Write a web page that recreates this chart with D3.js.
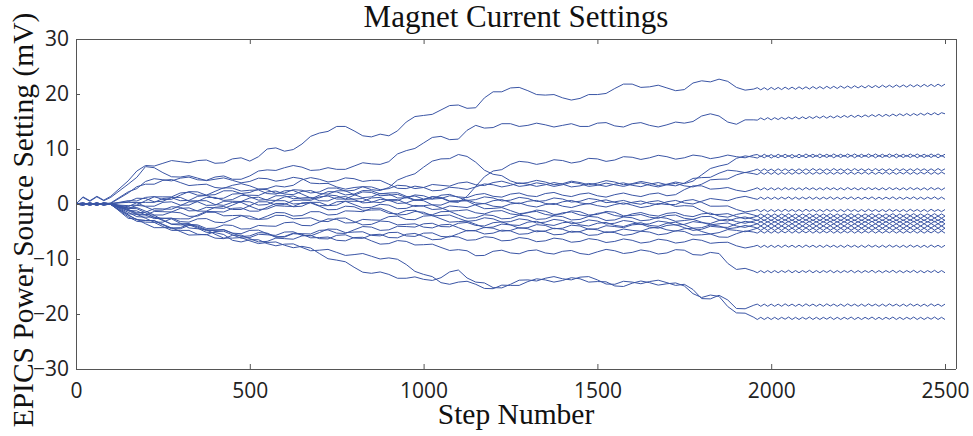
<!DOCTYPE html>
<html><head><meta charset="utf-8">
<script src="https://cdn.jsdelivr.net/npm/d3@7"></script>
<style>body{margin:0;background:#fff;} svg{display:block}</style>
</head><body><svg id="c" width="973" height="436"></svg>
<script>
// x positions (step number) shared by every series
const steps = [0,20,40,60,80,100,
150,175,200,225,250,275,300,325,350,375,400,425,450,475,500,525,550,575,600,625,650,675,700,725,750,775,800,825,850,875,900,925,950,975,1000,1025,1050,1075,1100,1125,1150,1175,1200,1225,1250,1275,1300,1325,1350,1375,1400,1425,1450,1475,1500,1525,1550,1575,1600,1625,1650,1675,1700,1725,1750,1775,1800,1825,1850,1875,1900,1925,1950,
1960,1970,1980,1990,2000,2010,2020,2030,2040,2050,2060,2070,2080,2090,2100,2110,2120,2130,2140,2150,2160,2170,2180,2190,2200,2210,2220,2230,2240,2250,2260,2270,2280,2290,2300,2310,2320,2330,2340,2350,2360,2370,2380,2390,2400,2410,2420,2430,2440,2450,2460,2470,2480,2490,2500];

const xTicks = [0,500,1000,1500,2000,2500];
const yTicks = [-30,-20,-10,0,10,20,30];

const seriesA = [0,1.3,0.6,1.4,0.7,1.4,
4.2,6.0,7.0,6.9,7.4,7.9,7.7,7.5,7.9,8.0,7.4,7.5,8.2,8.4,7.8,8.6,10.0,10.2,9.6,9.9,10.9,12.3,12.9,13.2,14.1,14.1,13.3,12.4,12.2,12.7,12.4,13.3,14.9,15.9,16.1,16.3,17.1,17.9,18.0,17.4,17.5,19.3,20.4,20.4,21.1,21.2,20.6,19.9,19.8,19.9,19.3,18.9,19.2,19.9,19.9,20.1,21.0,21.8,21.8,21.2,21.3,21.6,21.1,20.6,20.8,22.0,22.4,22.2,22.7,22.3,21.2,20.7,20.9,
21.15,20.75,21.15,20.75,21.2,20.8,21.2,20.8,21.25,20.85,21.25,20.85,21.3,20.9,21.3,20.9,21.35,20.95,21.35,20.95,21.4,21.0,21.4,21.0,21.45,21.05,21.45,21.05,21.5,21.1,21.5,21.1,21.55,21.15,21.55,21.15,21.6,21.2,21.6,21.2,21.65,21.25,21.65,21.25,21.7,21.3,21.7,21.3,21.75,21.35,21.75,21.35,21.8,21.4,21.8];
const seriesB = [0,0.2,-0.1,0.2,-0.1,0.2,
2.2,2.8,4.1,4.6,4.4,4.2,4.7,4.9,4.4,4.3,4.9,5.1,4.5,4.5,5.1,6.0,6.2,6.1,6.6,7.0,6.7,6.1,6.2,6.6,6.3,6.3,6.9,7.5,7.3,7.2,7.7,9.1,9.7,10.1,11.1,12.1,12.3,11.7,11.8,13.4,14.3,13.8,13.9,14.6,14.6,14.1,14.3,14.7,14.4,14.0,14.3,14.6,14.1,14.1,14.7,14.8,14.2,14.0,14.6,14.8,14.3,14.0,14.4,14.9,14.7,15.0,16.0,16.4,16.0,14.9,14.5,15.3,15.3,
15.25,15.65,15.3,15.7,15.3,15.7,15.35,15.75,15.4,15.8,15.45,15.85,15.45,15.85,15.5,15.9,15.55,15.95,15.6,16.0,15.6,16.0,15.65,16.05,15.7,16.1,15.75,16.15,15.75,16.15,15.8,16.2,15.85,16.25,15.9,16.3,15.9,16.3,15.95,16.35,16.0,16.4,16.05,16.45,16.05,16.45,16.1,16.5,16.15,16.55,16.2,16.6,16.2,16.6,16.4];
const seriesC = [0,-0.2,0.2,-0.2,0.2,0,
-0.5,0.25,0.3,0.3,1.0,1.15,0.6,0.65,1.4,1.55,1.0,1.05,1.8,1.9,1.3,0.7,0.8,1.5,1.5,0.95,1.1,1.2,0.6,0.55,1.2,1.35,0.8,0.2,0.3,0.85,0.7,0.1,0.2,0.75,0.6,-0.15,-0.2,0.4,0.3,1.4,3.2,4.95,6.0,6.25,7.2,7.75,7.6,7.2,7.5,8.05,7.9,7.45,7.7,8.3,8.2,7.75,8.0,8.6,8.5,8.1,8.4,8.85,8.6,8.15,8.4,8.9,8.7,8.25,8.5,8.9,8.6,8.4,8.9,
9.0,8.6,9.05,8.65,9.0,8.6,9.05,8.65,9.05,8.65,9.0,8.6,9.05,8.65,9.1,8.7,9.05,8.65,9.1,8.7,9.05,8.65,9.1,8.7,9.05,8.65,9.1,8.7,9.1,8.7,9.05,8.65,9.1,8.7,9.1,8.7,9.05,8.65,9.1,8.7,9.1,8.7,9.05,8.65,9.1,8.7,9.1,8.7,9.05,8.65,9.1,8.7,9.1,8.7,9.05];
const seriesD = [0,1.2,0.5,1.3,0.6,1.2,
3.6,4.85,6.8,6.6,5.7,4.95,4.9,5.15,4.7,4.25,4.5,4.75,4.3,3.85,4.1,4.7,4.6,4.15,4.4,4.85,4.6,3.8,3.7,3.75,3.1,2.7,3.0,3.15,2.6,2.45,3.0,4.35,5.0,5.5,6.7,7.8,8.2,8.25,9.0,8.65,7.6,6.15,5.4,5.15,4.2,3.7,3.9,4.3,4.0,3.5,3.7,4.15,3.9,3.5,3.8,4.25,4.0,3.5,3.7,4.1,3.8,3.35,3.6,4.0,3.7,4.15,5.3,6.45,6.9,7.25,8.3,8.75,8.5,
8.35,8.75,8.4,8.8,8.35,8.75,8.4,8.8,8.4,8.8,8.35,8.75,8.4,8.8,8.4,8.8,8.45,8.85,8.4,8.8,8.45,8.85,8.4,8.8,8.45,8.85,8.45,8.85,8.4,8.8,8.45,8.85,8.45,8.85,8.4,8.8,8.45,8.85,8.45,8.85,8.4,8.8,8.45,8.85,8.45,8.85,8.4,8.8,8.45,8.85,8.45,8.85,8.4,8.8,8.45];
const seriesE = [0,-0.1,0.2,-0.1,0.2,0.1,
2.0,3.15,3.6,3.6,4.3,4.45,3.9,3.35,3.5,3.6,3.0,2.85,3.4,3.7,3.3,2.7,2.8,3.3,3.1,3.4,4.4,4.8,4.5,4.0,4.2,4.75,4.6,4.1,4.3,4.3,3.6,2.85,2.8,3.25,3.0,2.4,2.5,3.05,2.9,2.65,3.1,3.65,3.5,3.1,3.4,3.85,3.6,3.2,3.5,3.9,3.6,3.1,3.3,3.75,3.5,3.2,3.6,3.85,3.4,3.15,3.6,3.9,3.5,3.3,3.8,4.65,4.8,4.85,5.6,6.15,6.0,5.7,6.1,
6.35,5.95,6.4,6.0,6.35,5.95,6.4,6.0,6.4,6.0,6.35,5.95,6.4,6.0,6.4,6.0,6.45,6.05,6.4,6.0,6.4,6.0,6.45,6.05,6.4,6.0,6.4,6.0,6.45,6.05,6.4,6.0,6.4,6.0,6.45,6.05,6.4,6.0,6.4,6.0,6.45,6.05,6.4,6.0,6.4,6.0,6.45,6.05,6.4,6.0,6.4,6.0,6.45,6.05,6.4];
const seriesF = [0,0.1,-0.2,0.1,-0.2,0,
0.6,0.55,1.2,1.35,0.8,0.85,1.6,2.25,2.2,1.6,1.7,2.4,2.4,1.9,2.1,2.7,2.6,1.95,2.0,2.6,2.5,2.0,2.2,2.9,2.9,2.35,2.5,3.15,3.1,2.6,2.8,3.4,3.3,2.8,3.0,3.55,3.4,3.25,3.8,4.0,3.5,3.35,3.9,4.15,3.7,3.2,3.4,3.85,3.6,3.2,3.5,3.95,3.7,3.2,3.4,3.8,3.5,3.2,3.6,3.85,3.4,3.1,3.5,3.75,3.3,3.1,3.6,4.4,4.5,4.55,5.3,5.75,5.5,
5.35,5.75,5.4,5.8,5.4,5.8,5.35,5.75,5.4,5.8,5.4,5.8,5.45,5.85,5.4,5.8,5.4,5.8,5.45,5.85,5.4,5.8,5.4,5.8,5.45,5.85,5.4,5.8,5.4,5.8,5.45,5.85,5.4,5.8,5.4,5.8,5.45,5.85,5.4,5.8,5.4,5.8,5.45,5.85,5.4,5.8,5.4,5.8,5.45,5.85,5.4,5.8,5.4,5.8,5.45];
const seriesG = [0,0.1,-0.1,0.2,-0.1,0.1,
-0.8,-0.25,-0.4,-0.4,0.3,0.4,-0.2,-0.2,0.5,1.2,1.2,0.65,0.8,1.55,1.6,1.55,2.2,2.35,1.8,1.7,2.3,2.45,1.9,1.8,2.4,2.4,1.7,1.15,1.3,1.9,1.8,1.1,1.1,1.65,1.5,0.9,1.0,1.5,1.3,1.15,1.7,1.9,1.4,1.25,1.8,2.0,1.5,1.35,1.9,2.1,1.6,1.35,1.8,2.0,1.5,1.25,1.7,2.0,1.6,1.35,1.8,2.0,1.5,1.7,2.6,3.3,3.3,2.7,2.8,3.0,2.5,2.25,2.7,
2.95,2.55,2.95,2.55,2.95,2.55,2.95,2.55,3.0,2.6,2.95,2.55,2.95,2.55,3.0,2.6,2.95,2.55,2.95,2.55,3.0,2.6,2.95,2.55,2.95,2.55,3.0,2.6,2.95,2.55,2.95,2.55,3.0,2.6,2.95,2.55,2.95,2.55,3.0,2.6,2.95,2.55,2.95,2.55,3.0,2.6,2.95,2.55,2.95,2.55,3.0,2.6,2.95,2.55,2.95];
const seriesH = [0,-0.1,0.1,-0.2,0.1,-0.1,
-1.2,-1.95,-2.0,-1.35,-1.4,-1.45,-0.8,-0.7,-1.3,-1.3,-0.6,-0.45,-1.0,-1.0,-0.3,0.4,0.4,-0.2,-0.1,0.65,0.7,0.65,1.3,1.45,0.9,0.9,1.6,2.2,2.1,1.5,1.6,1.75,1.2,0.65,0.8,1.3,1.1,0.45,0.5,0.7,0.2,0.05,0.6,0.8,0.3,0.05,0.5,0.65,0.1,-0.1,0.4,0.65,0.2,0.0,0.5,0.75,0.3,-0.05,0.3,0.55,0.1,-0.1,0.4,0.65,0.2,0.0,0.5,1.0,0.8,0.6,1.1,1.4,1.0,
0.85,1.25,0.85,1.25,0.85,1.25,0.85,1.25,0.9,1.3,0.85,1.25,0.85,1.25,0.9,1.3,0.85,1.25,0.85,1.25,0.9,1.3,0.85,1.25,0.85,1.25,0.9,1.3,0.85,1.25,0.85,1.25,0.9,1.3,0.85,1.25,0.85,1.25,0.9,1.3,0.85,1.25,0.85,1.25,0.9,1.3,0.85,1.25,0.85,1.25,0.9,1.3,0.85,1.25,0.85];
const seriesI = [0,0.1,-0.2,0.1,-0.1,0.1,
0.4,1.05,1.0,0.4,0.5,1.2,1.2,0.55,0.6,0.6,-0.1,-0.25,0.3,0.3,-0.4,-1.0,-0.9,-0.3,-0.4,-0.45,0.2,0.3,-0.3,-0.3,0.4,0.5,-0.1,-0.7,-0.6,-0.05,-0.2,-0.85,-0.8,-0.25,-0.4,-1.0,-0.9,-0.35,-0.5,-0.65,-0.1,0.1,-0.4,-0.55,0.0,0.2,-0.3,-0.55,-0.1,0.1,-0.4,-0.65,-0.2,0.1,-0.3,-0.55,-0.1,0.2,-0.2,-0.65,-0.4,0.1,-0.1,-0.1,0.6,0.8,0.3,-0.4,-0.4,-0.35,-1.0,-1.45,-1.2,
-1.0,-1.4,-1.0,-1.4,-1.0,-1.4,-1.0,-1.4,-0.95,-1.35,-1.0,-1.4,-1.0,-1.4,-0.95,-1.35,-1.0,-1.4,-1.0,-1.4,-0.95,-1.35,-1.0,-1.4,-1.0,-1.4,-0.95,-1.35,-1.0,-1.4,-1.0,-1.4,-0.95,-1.35,-1.0,-1.4,-1.0,-1.4,-0.95,-1.35,-1.0,-1.4,-1.0,-1.4,-0.95,-1.35,-1.0,-1.4,-1.0,-1.4,-0.95,-1.35,-1.0,-1.4,-1.0];
const seriesJ1 = [0,-0.2,0.1,-0.2,0.1,-0.1,
-0.3,-0.2,0.6,1.3,1.3,1.3,2.0,2.15,1.6,1.6,2.3,2.95,2.9,2.35,2.5,2.55,1.9,1.8,2.4,2.45,1.8,1.1,1.1,1.65,1.5,0.85,0.9,1.0,0.4,0.25,0.8,0.8,0.1,-0.45,-0.3,-0.15,-0.7,-1.3,-1.2,-1.05,-1.6,-1.8,-1.3,-1.2,-1.8,-2.0,-1.5,-1.35,-1.9,-2.1,-1.6,-1.45,-2.0,-2.2,-1.7,-1.55,-2.1,-2.3,-1.8,-1.55,-2.0,-2.2,-1.7,-1.55,-2.1,-2.3,-1.8,-1.65,-2.2,-2.4,-1.9,-1.6,-2.0,
-2.2,-1.8,-2.2,-1.8,-2.2,-1.8,-2.2,-1.8,-2.15,-1.75,-2.2,-1.8,-2.2,-1.8,-2.15,-1.75,-2.2,-1.8,-2.2,-1.8,-2.15,-1.75,-2.2,-1.8,-2.2,-1.8,-2.15,-1.75,-2.2,-1.8,-2.2,-1.8,-2.15,-1.75,-2.2,-1.8,-2.2,-1.8,-2.15,-1.75,-2.2,-1.8,-2.2,-1.8,-2.15,-1.75,-2.2,-1.8,-2.2,-1.8,-2.15,-1.75,-2.2,-1.8,-2.2];
const seriesJ2 = [0,0.1,-0.1,0.2,-0.2,0.1,
-1.8,-1.85,-2.6,-3.3,-3.3,-2.65,-2.7,-2.7,-2.0,-1.35,-1.4,-1.45,-0.8,-0.7,-1.3,-1.3,-0.6,0.1,0.1,-0.5,-0.4,0.3,0.3,-0.3,-0.2,0.5,0.5,0.45,1.1,1.2,0.6,0.6,1.3,1.45,0.9,0.9,1.6,1.75,1.2,0.65,0.8,1.3,1.1,0.55,0.7,1.2,1.0,0.45,0.6,1.1,0.9,0.35,0.5,1.0,0.8,0.25,0.4,0.65,0.2,-0.05,0.4,0.6,0.1,-0.45,-0.3,-0.4,-1.2,-1.9,-1.9,-1.75,-2.3,-2.7,-2.4,
-2.2,-2.6,-2.2,-2.6,-2.2,-2.6,-2.2,-2.6,-2.15,-2.55,-2.2,-2.6,-2.2,-2.6,-2.15,-2.55,-2.2,-2.6,-2.2,-2.6,-2.15,-2.55,-2.2,-2.6,-2.2,-2.6,-2.15,-2.55,-2.2,-2.6,-2.2,-2.6,-2.15,-2.55,-2.2,-2.6,-2.2,-2.6,-2.15,-2.55,-2.2,-2.6,-2.2,-2.6,-2.15,-2.55,-2.2,-2.6,-2.2,-2.6,-2.15,-2.55,-2.2,-2.6,-2.2];
const seriesJ3 = [0,-0.1,0.2,-0.1,0.2,0,
-1.0,-1.6,-1.5,-0.85,-0.9,-0.95,-0.3,0.4,0.4,-0.25,-0.2,0.5,0.5,0.45,1.1,1.25,0.7,0.65,1.3,1.45,0.9,0.9,1.6,2.25,2.2,1.65,1.8,2.45,2.4,1.85,2.0,2.05,1.4,0.75,0.8,1.35,1.2,0.55,0.6,0.55,-0.2,-0.85,-0.8,-0.65,-1.2,-1.75,-1.6,-1.1,-1.3,-1.9,-1.8,-1.25,-1.4,-2.0,-1.9,-1.35,-1.5,-2.15,-2.1,-1.9,-2.4,-2.6,-2.1,-2.0,-2.6,-2.8,-2.3,-2.25,-2.9,-3.1,-2.6,-2.35,-2.8,
-3.0,-2.6,-3.0,-2.6,-3.0,-2.6,-3.0,-2.6,-2.95,-2.55,-3.0,-2.6,-3.0,-2.6,-2.95,-2.55,-3.0,-2.6,-3.0,-2.6,-2.95,-2.55,-3.0,-2.6,-3.0,-2.6,-2.95,-2.55,-3.0,-2.6,-3.0,-2.6,-2.95,-2.55,-3.0,-2.6,-3.0,-2.6,-2.95,-2.55,-3.0,-2.6,-3.0,-2.6,-2.95,-2.55,-3.0,-2.6,-3.0,-2.6,-2.95,-2.55,-3.0,-2.6,-3.0];
const seriesJ4 = [0,0.2,-0.1,0.1,-0.2,0,
-0.7,-0.65,-1.3,-2.0,-2.0,-1.45,-1.6,-2.25,-2.2,-1.5,-1.5,-2.15,-2.1,-2.05,-2.7,-2.8,-2.2,-1.55,-1.6,-2.2,-2.1,-1.4,-1.4,-2.0,-1.9,-1.25,-1.3,-1.4,-0.8,-0.75,-1.4,-2.0,-1.9,-1.35,-1.5,-2.15,-2.1,-2.0,-2.6,-3.15,-3.0,-2.5,-2.7,-3.3,-3.2,-2.7,-2.9,-3.45,-3.3,-2.8,-3.0,-3.55,-3.4,-2.9,-3.1,-3.65,-3.5,-3.0,-3.2,-3.75,-3.6,-3.1,-3.3,-3.85,-3.7,-3.2,-3.4,-3.55,-3.0,-2.75,-3.2,-3.5,-3.1,
-2.9,-3.3,-2.9,-3.3,-2.9,-3.3,-2.9,-3.3,-2.85,-3.25,-2.9,-3.3,-2.9,-3.3,-2.85,-3.25,-2.9,-3.3,-2.9,-3.3,-2.85,-3.25,-2.9,-3.3,-2.9,-3.3,-2.85,-3.25,-2.9,-3.3,-2.9,-3.3,-2.85,-3.25,-2.9,-3.3,-2.9,-3.3,-2.85,-3.25,-2.9,-3.3,-2.9,-3.3,-2.85,-3.25,-2.9,-3.3,-2.9,-3.3,-2.85,-3.25,-2.9,-3.3,-2.9];
const seriesJ5 = [0,-0.2,0.1,-0.2,0.1,-0.1,
-2.0,-2.85,-3.0,-3.0,-3.7,-4.35,-4.3,-3.7,-3.8,-4.45,-4.4,-3.8,-3.9,-4.55,-4.5,-3.9,-4.0,-4.05,-3.4,-3.3,-3.9,-3.95,-3.3,-2.7,-2.8,-3.45,-3.4,-2.8,-2.9,-2.95,-2.3,-2.2,-2.8,-2.85,-2.2,-2.1,-2.7,-3.3,-3.2,-3.1,-3.7,-4.3,-4.2,-3.65,-3.8,-4.4,-4.3,-3.75,-3.9,-4.5,-4.4,-3.85,-4.0,-4.6,-4.5,-3.95,-4.1,-4.3,-3.8,-3.65,-4.2,-4.4,-3.9,-3.75,-4.3,-4.8,-4.6,-4.05,-4.2,-4.25,-3.6,-3.15,-3.4,
-3.6,-3.2,-3.6,-3.2,-3.6,-3.2,-3.6,-3.2,-3.55,-3.15,-3.6,-3.2,-3.6,-3.2,-3.55,-3.15,-3.6,-3.2,-3.6,-3.2,-3.55,-3.15,-3.6,-3.2,-3.6,-3.2,-3.55,-3.15,-3.6,-3.2,-3.6,-3.2,-3.55,-3.15,-3.6,-3.2,-3.6,-3.2,-3.55,-3.15,-3.6,-3.2,-3.6,-3.2,-3.55,-3.15,-3.6,-3.2,-3.6,-3.2,-3.55,-3.15,-3.6,-3.2,-3.6];
const seriesJ6 = [0,0.1,-0.2,0.1,-0.1,0.1,
0.3,0.25,-0.5,-1.15,-1.1,-0.5,-0.6,-1.25,-1.2,-0.6,-0.7,-0.8,-0.2,0.45,0.4,-0.2,-0.1,0.6,0.6,0.0,0.1,0.2,-0.4,-1.05,-1.0,-0.4,-0.5,-1.15,-1.1,-1.05,-1.7,-1.8,-1.2,-1.15,-1.8,-1.95,-1.4,-1.35,-2.0,-2.6,-2.5,-1.95,-2.1,-2.7,-2.6,-2.05,-2.2,-2.8,-2.7,-2.15,-2.3,-2.9,-2.8,-2.25,-2.4,-3.0,-2.9,-2.35,-2.5,-3.05,-2.9,-2.4,-2.6,-3.15,-3.0,-2.8,-3.3,-3.8,-3.6,-3.45,-4.0,-4.25,-3.8,
-3.6,-4.0,-3.6,-4.0,-3.6,-4.0,-3.6,-4.0,-3.55,-3.95,-3.6,-4.0,-3.6,-4.0,-3.55,-3.95,-3.6,-4.0,-3.6,-4.0,-3.55,-3.95,-3.6,-4.0,-3.6,-4.0,-3.55,-3.95,-3.6,-4.0,-3.6,-4.0,-3.55,-3.95,-3.6,-4.0,-3.6,-4.0,-3.55,-3.95,-3.6,-4.0,-3.6,-4.0,-3.55,-3.95,-3.6,-4.0,-3.6,-4.0,-3.55,-3.95,-3.6,-4.0,-3.6];
const seriesJ7 = [0,-0.1,0.1,-0.2,0.2,0,
-1.5,-2.3,-2.4,-2.35,-3.0,-3.65,-3.6,-3.55,-4.2,-4.85,-4.8,-4.7,-5.3,-5.9,-5.8,-5.2,-5.3,-5.95,-5.9,-5.3,-5.4,-5.45,-4.8,-4.7,-5.3,-5.35,-4.7,-4.1,-4.2,-4.8,-4.7,-4.05,-4.1,-4.2,-3.6,-3.5,-4.1,-4.15,-3.5,-3.35,-3.9,-4.0,-3.4,-3.25,-3.8,-3.9,-3.3,-3.15,-3.7,-3.9,-3.4,-3.25,-3.8,-4.0,-3.5,-3.35,-3.9,-4.1,-3.6,-3.4,-3.9,-4.05,-3.5,-3.3,-3.8,-4.4,-4.3,-3.8,-4.0,-4.5,-4.3,-3.9,-4.2,
-4.4,-4.0,-4.4,-4.0,-4.4,-4.0,-4.4,-4.0,-4.35,-3.95,-4.4,-4.0,-4.4,-4.0,-4.35,-3.95,-4.4,-4.0,-4.4,-4.0,-4.35,-3.95,-4.4,-4.0,-4.4,-4.0,-4.35,-3.95,-4.4,-4.0,-4.4,-4.0,-4.35,-3.95,-4.4,-4.0,-4.4,-4.0,-4.35,-3.95,-4.4,-4.0,-4.4,-4.0,-4.35,-3.95,-4.4,-4.0,-4.4,-4.0,-4.35,-3.95,-4.4,-4.0,-4.4];
const seriesJ8 = [0,0.1,-0.1,0.1,-0.2,0.1,
-1.2,-1.25,-2.0,-2.65,-2.6,-2.55,-3.2,-3.3,-2.7,-2.65,-3.3,-3.4,-2.8,-2.15,-2.2,-2.8,-2.7,-2.05,-2.1,-2.7,-2.6,-2.5,-3.1,-3.2,-2.6,-2.55,-3.2,-3.8,-3.7,-3.1,-3.2,-3.8,-3.7,-3.6,-4.2,-4.35,-3.8,-3.7,-4.3,-4.9,-4.8,-4.25,-4.4,-4.95,-4.8,-4.3,-4.5,-5.05,-4.9,-4.4,-4.6,-5.15,-5.0,-4.5,-4.7,-5.2,-5.0,-4.55,-4.8,-4.95,-4.4,-4.2,-4.7,-4.95,-4.5,-4.4,-5.0,-5.45,-5.2,-4.65,-4.8,-5.05,-4.6,
-4.4,-4.8,-4.4,-4.8,-4.4,-4.8,-4.4,-4.8,-4.35,-4.75,-4.4,-4.8,-4.4,-4.8,-4.35,-4.75,-4.4,-4.8,-4.4,-4.8,-4.35,-4.75,-4.4,-4.8,-4.4,-4.8,-4.35,-4.75,-4.4,-4.8,-4.4,-4.8,-4.35,-4.75,-4.4,-4.8,-4.4,-4.8,-4.35,-4.75,-4.4,-4.8,-4.4,-4.8,-4.35,-4.75,-4.4,-4.8,-4.4,-4.8,-4.35,-4.75,-4.4,-4.8,-4.4];
const seriesJ9 = [0,-0.2,0.1,-0.1,0.1,-0.1,
-2.3,-3.15,-3.3,-3.35,-4.1,-4.8,-4.8,-4.8,-5.5,-5.6,-5.0,-4.95,-5.6,-6.2,-6.1,-5.5,-5.6,-5.7,-5.1,-5.05,-5.7,-5.8,-5.2,-4.55,-4.6,-5.2,-5.1,-5.05,-5.7,-5.8,-5.2,-5.15,-5.8,-5.9,-5.3,-5.25,-5.9,-6.0,-5.4,-4.8,-4.9,-5.45,-5.3,-4.75,-4.9,-5.5,-5.4,-4.85,-5.0,-5.6,-5.5,-4.95,-5.1,-5.7,-5.6,-5.05,-5.2,-5.7,-5.5,-4.95,-5.1,-5.6,-5.4,-4.85,-5.0,-5.65,-5.6,-5.45,-6.0,-6.05,-5.4,-4.9,-5.1,
-5.3,-4.9,-5.3,-4.9,-5.3,-4.9,-5.3,-4.9,-5.25,-4.85,-5.3,-4.9,-5.3,-4.9,-5.25,-4.85,-5.3,-4.9,-5.3,-4.9,-5.25,-4.85,-5.3,-4.9,-5.3,-4.9,-5.25,-4.85,-5.3,-4.9,-5.3,-4.9,-5.25,-4.85,-5.3,-4.9,-5.3,-4.9,-5.25,-4.85,-5.3,-4.9,-5.3,-4.9,-5.25,-4.85,-5.3,-4.9,-5.3,-4.9,-5.25,-4.85,-5.3,-4.9,-5.3];
const seriesR = [0,0.1,-0.2,0.1,-0.1,0,
-2.6,-2.75,-3.6,-4.3,-4.3,-4.3,-5.0,-5.65,-5.6,-5.55,-6.2,-6.3,-5.7,-5.65,-6.3,-6.9,-6.8,-6.2,-6.3,-6.4,-5.8,-5.7,-6.3,-6.35,-5.7,-5.6,-6.2,-6.25,-5.6,-5.5,-6.1,-6.15,-5.5,-5.35,-5.9,-6.5,-6.4,-5.85,-6.0,-6.6,-6.5,-5.95,-6.1,-6.7,-6.6,-6.1,-6.3,-6.85,-6.7,-6.2,-6.4,-6.95,-6.8,-6.3,-6.5,-7.0,-6.8,-6.35,-6.6,-7.1,-6.9,-6.4,-6.6,-7.1,-6.9,-6.4,-6.6,-7.15,-7.0,-6.95,-7.6,-8.0,-7.7,
-7.5,-7.9,-7.5,-7.9,-7.5,-7.9,-7.5,-7.9,-7.45,-7.85,-7.5,-7.9,-7.5,-7.9,-7.45,-7.85,-7.5,-7.9,-7.5,-7.9,-7.45,-7.85,-7.5,-7.9,-7.5,-7.9,-7.45,-7.85,-7.5,-7.9,-7.5,-7.9,-7.45,-7.85,-7.5,-7.9,-7.5,-7.9,-7.45,-7.85,-7.5,-7.9,-7.5,-7.9,-7.45,-7.85,-7.5,-7.9,-7.5,-7.9,-7.45,-7.85,-7.5,-7.9,-7.5];
const seriesS = [0,-0.1,0.1,-0.2,0.1,-0.1,
-2.0,-2.85,-3.0,-3.05,-3.8,-4.5,-4.5,-3.9,-4.0,-4.7,-4.7,-4.65,-5.3,-5.4,-4.8,-4.75,-5.4,-6.05,-6.0,-5.4,-5.5,-6.15,-6.1,-6.0,-6.6,-6.7,-6.1,-6.05,-6.7,-7.3,-7.2,-6.65,-6.8,-7.45,-7.4,-7.3,-7.9,-8.45,-8.3,-8.5,-9.4,-9.35,-8.6,-8.4,-8.9,-9.05,-8.5,-8.35,-8.9,-9.1,-8.6,-8.45,-9.0,-9.2,-8.7,-8.25,-8.5,-9.0,-8.8,-8.35,-8.6,-9.1,-8.9,-8.3,-8.4,-9.2,-9.3,-8.8,-9.0,-10.8,-11.9,-11.7,-12.2,
-12.5,-12.1,-12.5,-12.1,-12.5,-12.1,-12.5,-12.1,-12.45,-12.05,-12.5,-12.1,-12.5,-12.1,-12.45,-12.05,-12.5,-12.1,-12.5,-12.1,-12.45,-12.05,-12.5,-12.1,-12.5,-12.1,-12.45,-12.05,-12.5,-12.1,-12.5,-12.1,-12.45,-12.05,-12.5,-12.1,-12.5,-12.1,-12.45,-12.05,-12.5,-12.1,-12.5,-12.1,-12.45,-12.05,-12.5,-12.1,-12.5,-12.1,-12.45,-12.05,-12.5,-12.1,-12.5];
const seriesT = [0,0.2,-0.1,0.2,-0.1,0.1,
-0.8,-0.85,-1.6,-2.45,-2.6,-2.7,-3.5,-4.35,-4.5,-4.65,-5.5,-6.2,-6.2,-6.1,-6.7,-7.2,-7.0,-6.9,-7.5,-7.95,-7.7,-8.0,-9.0,-9.95,-10.2,-10.5,-11.5,-12.4,-12.6,-12.35,-12.8,-13.5,-13.5,-13.25,-13.7,-13.9,-13.4,-12.35,-12.0,-13.45,-14.2,-14.35,-15.2,-15.25,-14.6,-13.85,-13.8,-14.0,-13.5,-13.2,-13.6,-13.8,-13.3,-13.2,-13.8,-14.55,-14.6,-14.05,-14.2,-14.5,-14.1,-13.85,-14.3,-14.8,-14.6,-15.55,-17.2,-17.25,-16.6,-17.45,-19.0,-19.05,-18.4,
-18.2,-18.6,-18.2,-18.6,-18.2,-18.6,-18.2,-18.6,-18.15,-18.55,-18.2,-18.6,-18.2,-18.6,-18.15,-18.55,-18.2,-18.6,-18.2,-18.6,-18.15,-18.55,-18.2,-18.6,-18.2,-18.6,-18.15,-18.55,-18.2,-18.6,-18.2,-18.6,-18.15,-18.55,-18.2,-18.6,-18.2,-18.6,-18.15,-18.55,-18.2,-18.6,-18.2,-18.6,-18.15,-18.55,-18.2,-18.6,-18.2,-18.6,-18.15,-18.55,-18.2,-18.6,-18.2];
const seriesU = [0,-0.1,0.2,-0.1,0.1,0,
-1.0,-1.8,-1.9,-2.05,-2.9,-3.7,-3.8,-3.75,-4.4,-5.15,-5.2,-5.55,-6.6,-6.9,-6.5,-6.5,-7.2,-7.6,-7.3,-7.25,-7.9,-8.5,-8.4,-8.25,-8.8,-9.35,-9.2,-9.0,-9.5,-10.0,-9.8,-10.05,-11.0,-12.25,-12.8,-13.2,-14.3,-14.6,-14.2,-14.05,-14.6,-15.35,-15.4,-14.75,-14.8,-14.8,-14.1,-13.6,-13.8,-14.2,-13.9,-13.4,-13.6,-14.2,-14.1,-14.15,-14.9,-15.0,-14.4,-14.0,-14.3,-14.75,-14.5,-14.35,-14.9,-16.3,-17.0,-16.55,-16.8,-18.65,-19.8,-19.85,-20.6,
-21.0,-20.6,-21.0,-20.6,-21.0,-20.6,-21.0,-20.6,-20.95,-20.55,-21.0,-20.6,-21.0,-20.6,-20.95,-20.55,-21.0,-20.6,-21.0,-20.6,-20.95,-20.55,-21.0,-20.6,-21.0,-20.6,-20.95,-20.55,-21.0,-20.6,-21.0,-20.6,-20.95,-20.55,-21.0,-20.6,-21.0,-20.6,-20.95,-20.55,-21.0,-20.6,-21.0,-20.6,-20.95,-20.55,-21.0,-20.6,-21.0,-20.6,-20.95,-20.55,-21.0,-20.6,-21.0];

const allSeries = [seriesA,seriesB,seriesC,seriesD,seriesE,seriesF,seriesG,seriesH,seriesI,
  seriesJ1,seriesJ2,seriesJ3,seriesJ4,seriesJ5,seriesJ6,seriesJ7,seriesJ8,seriesJ9,seriesR,seriesS,seriesT,seriesU];

const L = 76, R = 956, T = 39, B = 369;
const x = d3.scaleLinear().domain([0, 2500]).range([L, 945]);
const y = d3.scaleLinear().domain([-30, 30]).range([B, T]);
const svg = d3.select('#c');
const lineColor = '#3a55a5';
const axisColor = '#555';
const tickFont = "'Open Sans', 'Liberation Sans', sans-serif";
const serifFont = "'Liberation Serif', 'DejaVu Serif', serif";

svg.append('defs').append('clipPath').attr('id', 'clip')
  .append('rect').attr('x', L).attr('y', T).attr('width', R - L).attr('height', B - T);

const line = d3.line()
  .x((d, i) => x(steps[i]))
  .y(d => y(d))
  .curve(d3.curveLinear);

svg.append('g').attr('clip-path', 'url(#clip)')
  .selectAll('path').data(allSeries).join('path')
  .attr('d', d => line(d.slice(0, steps.length)))
  .attr('fill', 'none').attr('stroke', lineColor).attr('stroke-width', 1)
  .attr('stroke-linejoin', 'round');

// axes
const fmt = d3.format('d');
const gx = svg.append('g').attr('transform', `translate(0,${B})`)
  .call(d3.axisBottom(x).tickValues(xTicks).tickFormat(fmt).tickSizeInner(-5).tickSizeOuter(0).tickPadding(14));
const gxt = svg.append('g').attr('transform', `translate(0,${T})`)
  .call(d3.axisTop(x).tickValues(xTicks).tickSizeInner(-5).tickSizeOuter(0).tickFormat(''));
const gy = svg.append('g').attr('transform', `translate(${L},0)`)
  .call(d3.axisLeft(y).tickValues(yTicks).tickFormat(fmt).tickSizeInner(-4).tickSizeOuter(0).tickPadding(7));
[gx, gxt, gy].forEach(g => {
  g.select('.domain').remove();
  g.selectAll('.tick line').attr('stroke', axisColor);
  g.selectAll('.tick text').attr('font-family', tickFont).attr('font-size', 21).attr('fill', '#222');
});

// frame
const frame = svg.append('g').attr('stroke', axisColor).attr('stroke-width', 1).attr('shape-rendering', 'crispEdges');
frame.append('line').attr('x1', L).attr('x2', R).attr('y1', B).attr('y2', B);
frame.append('line').attr('x1', L).attr('x2', R).attr('y1', T).attr('y2', T);
frame.append('line').attr('x1', L).attr('x2', L).attr('y1', T).attr('y2', B);
frame.append('line').attr('x1', R).attr('x2', R).attr('y1', T).attr('y2', B);

// texts
svg.append('text').attr('x', 516).attr('y', 27).attr('text-anchor', 'middle')
  .attr('font-family', serifFont).attr('font-size', 31).attr('fill', '#111')
  .text('Magnet Current Settings');
svg.append('text').attr('x', 516).attr('y', 424).attr('text-anchor', 'middle')
  .attr('font-family', serifFont).attr('font-size', 29.5).attr('fill', '#111')
  .text('Step Number');
svg.append('text').attr('transform', 'translate(33,220) rotate(-90)').attr('text-anchor', 'middle')
  .attr('font-family', serifFont).attr('font-size', 29.5).attr('fill', '#111')
  .text('EPICS Power Source Setting (mV)');
</script></body></html>
